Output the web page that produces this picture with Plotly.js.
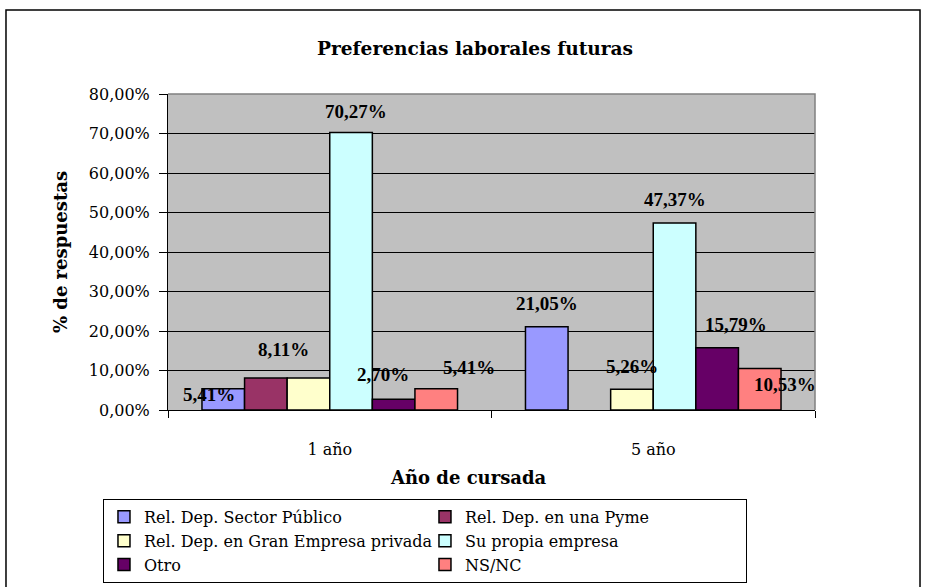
<!DOCTYPE html>
<html>
<head>
<meta charset="utf-8">
<script src="https://cdn.plot.ly/plotly-3.0.1.min.js"></script>
<style>
  body { margin: 0; background: #fff; }
  #graph { width: 926px; height: 587px; }
</style>
</head>
<body>
<div id="graph"></div>
<script>
// data (% de respuestas)
const categories = ["1 año", "5 año"];
const sectorPublico = [5.41, 21.05];
const pyme = [8.11, null];
const granEmpresa = [8.11, 5.26];
const propiaEmpresa = [70.27, 47.37];
const otro = [2.70, 15.79];
const nsnc = [5.41, 10.53];

const seriesNames = [
  "Rel. Dep. Sector Público",
  "Rel. Dep. en una Pyme",
  "Rel. Dep. en Gran Empresa privada",
  "Su propia empresa",
  "Otro",
  "NS/NC"
];
const seriesValues = [sectorPublico, pyme, granEmpresa, propiaEmpresa, otro, nsnc];
const seriesColors = ["#9999FF", "#993366", "#FFFFCC", "#CCFFFF", "#660066", "#FF8080"];

// the original placed some labels off-centre: [dx, dy] in px, null = no label drawn
const labelShift = [
  [[-14, -29], [0, 0]],
  [[18, 5], null],
  [null, [0, 0]],
  [[5, -2], [0, 0]],
  [[-11, 2], [19, 0]],
  [[33, -2], [25, -39]]
];

const bargap = 0.21;
const serif = "DejaVu Serif, Liberation Serif, serif";

function fmt(v) {
  return v.toFixed(2).replace(".", ",") + "%";
}

const traces = seriesNames.map((name, i) => ({
  type: "bar",
  name: name,
  x: categories,
  y: seriesValues[i],
  marker: { color: seriesColors[i], line: { color: "#000", width: 1.5 } },
  hoverinfo: "skip"
}));

// value labels
const slot = (1 - bargap) / seriesNames.length;
const annotations = [];
seriesValues.forEach((vals, i) => {
  vals.forEach((v, c) => {
    const shift = labelShift[i][c];
    if (v === null || !shift) return;
    annotations.push({
      x: c - (1 - bargap) / 2 + slot * (i + 0.5),
      y: v,
      xref: "x", yref: "y",
      text: fmt(v),
      showarrow: false,
      yanchor: "middle",
      xshift: shift[0],
      yshift: 23 + shift[1],
      font: { family: "Liberation Serif, serif", size: 19, color: "#000", weight: "bold" }
    });
  });
});

// x axis title
annotations.push({
  xref: "paper", yref: "paper",
  x: 0.4637, y: -0.215,
  text: "Año de cursada",
  showarrow: false,
  yanchor: "middle",
  font: { family: serif, size: 18, color: "#000", weight: "bold" }
});

const layout = {
  width: 926,
  height: 587,
  margin: { l: 168, r: 111, t: 94, b: 177, autoexpand: false },
  paper_bgcolor: "#fff",
  plot_bgcolor: "#C0C0C0",
  barmode: "group",
  bargap: bargap,
  bargroupgap: 0,
  showlegend: true,
  title: {
    text: "Preferencias laborales futuras",
    xref: "container", yref: "container",
    x: 0.513, y: 0.918,
    xanchor: "center", yanchor: "middle",
    font: { family: serif, size: 18.6, color: "#000", weight: "bold" }
  },
  xaxis: {
    type: "category",
    range: [-0.5, 1.5],
    showline: true,
    linecolor: "#000",
    linewidth: 1,
    ticks: "outside",
    tickson: "boundaries",
    ticklen: 7,
    tickcolor: "#000",
    ticklabelstandoff: 25,
    showgrid: false,
    tickfont: { family: serif, size: 16, color: "#000" }
  },
  yaxis: {
    range: [0, 80],
    dtick: 10,
    tickformat: ".2f",
    ticksuffix: "%",
    showline: true,
    linecolor: "#000",
    linewidth: 1,
    ticks: "outside",
    ticklen: 8,
    tickcolor: "#000",
    ticklabelstandoff: 6,
    showgrid: true,
    gridcolor: "#000",
    gridwidth: 1,
    zeroline: false,
    tickfont: { family: serif, size: 16, color: "#000" },
    title: {
      text: "% de respuestas",
      standoff: 16,
      font: { family: serif, size: 18, color: "#000", weight: "bold" }
    }
  },
  separators: ",.",
  legend: {
    orientation: "h",
    x: -0.1005, xanchor: "left",
    y: -0.2815, yanchor: "top",
    entrywidth: 276,
    entrywidthmode: "pixels",
    traceorder: "normal",
    bgcolor: "#fff",
    bordercolor: "#000",
    borderwidth: 1,
    font: { family: serif, size: 16, color: "#000" }
  },
  annotations: annotations,
  shapes: [
    // grey top/right edge of the plot area
    { type: "path", xref: "paper", yref: "paper", path: "M 0,1 L 1,1 L 1,0",
      line: { color: "#808080", width: 1.5 }, layer: "above" },
    // chart frame
    { type: "rect", xref: "paper", yref: "paper",
      x0: -0.2504, x1: 1.1623, y0: -0.62, y1: 1.2658,
      line: { color: "#000", width: 1.5 }, fillcolor: "rgba(0,0,0,0)", layer: "below" }
  ]
};

Plotly.newPlot("graph", traces, layout, { displayModeBar: false, staticPlot: true });
</script>
</body>
</html>
